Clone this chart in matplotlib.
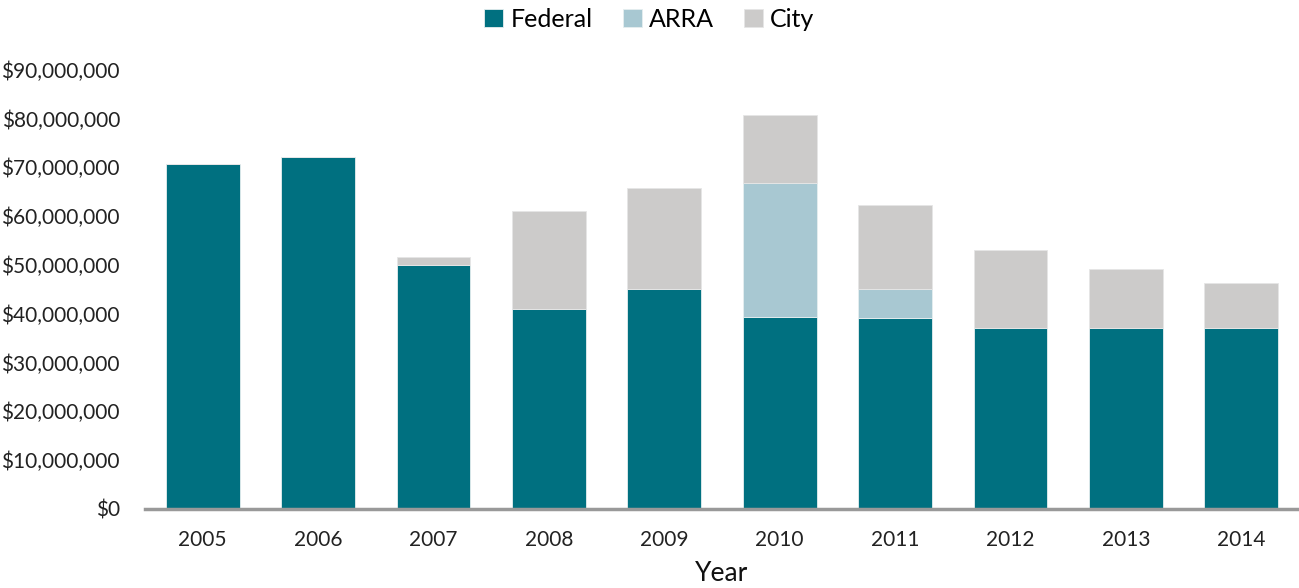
import matplotlib.pyplot as plt
import numpy as np

plt.rcParams['font.family'] = ['Lato', 'DejaVu Sans']

# Funding by year (dollars)
years = ['2005', '2006', '2007', '2008', '2009', '2010', '2011', '2012', '2013', '2014']
federal = [70.7e6, 72.1e6, 50.0e6, 41.0e6, 45.1e6, 39.4e6, 39.2e6, 37.1e6, 37.1e6, 37.1e6]
arra = [0, 0, 0, 0, 0, 27.4e6, 5.9e6, 0, 0, 0]
city = [0, 0, 1.7e6, 20.1e6, 20.7e6, 14.0e6, 17.2e6, 16.0e6, 12.1e6, 9.2e6]

fig = plt.figure(figsize=(12.99, 5.88), dpi=100)
ax = fig.add_axes([0.1116, 0.1344, 0.8884, 0.747])

x = np.arange(len(years))
w = 0.64
fed = np.array(federal)
ar = np.array(arra)
ct = np.array(city)
ax.bar(x, fed, w, color='#007080', label='Federal', edgecolor='#e6eef0', linewidth=0.6)
ax.bar(x, ar, w, bottom=fed, color='#A8C8D2', label='ARRA', edgecolor='#e6eef0', linewidth=0.6)
ax.bar(x, ct, w, bottom=fed + ar, color='#CCCBCA', label='City', edgecolor='#e6e6e6', linewidth=0.6)

ax.set_xlim(-0.5, len(years) - 0.5)
ax.set_ylim(0, 90e6)
ax.set_yticks(np.arange(0, 90e6 + 1, 10e6))
ax.yaxis.set_major_formatter(plt.FuncFormatter(lambda v, p: '${:,.0f}'.format(v)))
ax.set_xticks(x)
ax.set_xticklabels(years)
ax.tick_params(axis='both', length=0, labelsize=15, colors='#222222')
ax.tick_params(axis='x', pad=15)
ax.tick_params(axis='y', pad=18)

for s in ['top', 'right', 'left']:
    ax.spines[s].set_visible(False)
ax.spines['bottom'].set_color('#999999')
ax.spines['bottom'].set_linewidth(2.5)

ax.set_xlabel('Year', fontsize=19, labelpad=8, color='#111111')

fig.legend(loc='upper center', bbox_to_anchor=(0.5, 1.025), ncol=3, frameon=False,
           fontsize=18, handlelength=0.75, handleheight=0.75, handletextpad=0.3,
           columnspacing=1.2)

fig.savefig('out.png', dpi=100)
